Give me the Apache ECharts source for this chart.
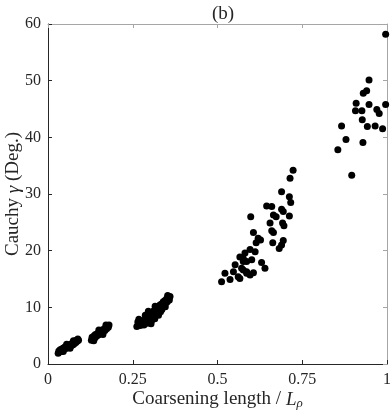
<!DOCTYPE html>
<html style="height: 100%">
<head>
    <meta charset="utf-8">
    <title>(b)</title>
</head>
<body style="height: 100%; margin: 0">
    <div id="container" style="width: 391px; height: 415px"></div>
    <script type="text/javascript" src="https://cdn.jsdelivr.net/npm/echarts@6/dist/echarts.min.js"></script>
    <script type="text/javascript">
        var xTicks = [0, 0.25, 0.5, 0.75, 1];
        var yTicks = [0, 10, 20, 30, 40, 50, 60];

        // coarsening length / L_rho , Cauchy gamma (deg)
        var group1 = [
            [0.030,1.9],[0.032,2.3],[0.034,2.1],[0.036,2.5],[0.038,2.2],[0.040,2.6],[0.042,2.4],
            [0.044,2.8],[0.046,2.5],[0.048,2.9],[0.050,2.7],[0.052,3.1],[0.054,2.8],[0.056,3.2],
            [0.058,2.9],[0.060,3.3],[0.062,3.0],[0.064,3.4],[0.066,3.1],[0.068,3.5],[0.070,3.3],
            [0.072,3.7],[0.074,3.4],[0.076,3.8],[0.078,3.6],[0.080,4.0],[0.082,3.8],[0.084,4.2],
            [0.086,4.0],[0.088,4.4],[0.090,4.2],[0.045,2.2],[0.055,3.5],[0.065,2.8],[0.075,4.1]
        ];
        var group2 = [
            [0.128,4.2],[0.130,4.7],[0.133,4.4],[0.136,5.0],[0.138,4.6],[0.140,5.2],[0.143,4.9],
            [0.146,5.4],[0.148,5.1],[0.150,5.6],[0.153,5.3],[0.156,5.8],[0.158,5.5],[0.160,6.0],
            [0.163,5.7],[0.166,6.2],[0.168,5.9],[0.170,6.4],[0.173,6.2],[0.176,6.7],[0.178,6.5],
            [0.180,6.9],[0.135,4.1],[0.150,6.0],[0.162,5.2],[0.171,6.9]
        ];
        var group3 = [
            [0.262,6.6],[0.265,7.4],[0.270,7.2],[0.272,6.8],[0.275,7.6],[0.278,7.1],[0.280,7.3],
            [0.283,6.9],[0.285,7.8],[0.288,7.5],[0.290,8.0],[0.292,7.2],[0.295,8.4],[0.298,7.8],
            [0.300,8.8],[0.302,8.2],[0.305,7.6],[0.307,9.0],[0.310,8.5],[0.312,9.4],[0.315,8.0],
            [0.318,9.2],[0.320,9.8],[0.322,8.8],[0.325,10.0],[0.328,9.5],[0.330,10.4],[0.332,9.2],
            [0.335,10.6],[0.338,10.0],[0.340,11.0],[0.342,10.3],[0.345,11.2],[0.348,10.8],
            [0.350,11.5],[0.352,11.0],[0.355,11.8],[0.358,11.3],[0.360,11.9],
            [0.268,7.9],[0.296,9.3],[0.304,7.1],[0.316,10.2],[0.326,8.6],[0.336,9.6],[0.346,10.1],
            [0.353,12.1],[0.287,8.6]
        ];
        var group4 = [
            [0.512,14.5],[0.522,16.0],[0.537,14.9],[0.547,16.3],[0.552,17.5],[0.561,15.4],
            [0.571,16.9],[0.576,18.1],[0.586,16.3],[0.596,15.7],
            [0.689,30.4],[0.712,29.5],[0.716,28.5],[0.645,27.9],[0.660,27.8],[0.689,27.3],
            [0.694,26.9],[0.665,26.3],[0.673,26.0],[0.712,26.1],[0.598,26.0],[0.655,24.9],
            [0.692,24.9],[0.696,24.4],[0.660,23.5],[0.665,23.2],[0.606,23.2],[0.620,22.2],
            [0.627,21.9],[0.614,21.4],[0.663,21.4],[0.694,21.8],[0.689,21.0],[0.682,20.4],
            [0.596,20.2],[0.611,19.8],[0.581,19.6],[0.566,18.9],[0.576,18.6],[0.601,18.4],
            [0.586,18.1],[0.630,17.9],[0.640,16.9],[0.576,16.6],[0.586,16.0],[0.606,16.1],
            [0.566,15.1],[0.723,34.2],[0.714,32.8]
        ];
        var group5 = [
            [0.996,58.2],[0.947,50.1],[0.940,48.2],[0.930,47.8],[0.909,46.0],[0.947,45.8],
            [0.996,45.8],[0.907,44.7],[0.926,44.7],[0.970,44.9],[0.977,44.2],[0.927,43.1],
            [0.866,42.0],[0.942,41.9],[0.965,42.0],[0.987,41.5],[0.879,39.6],[0.929,39.1],
            [0.855,37.8],[0.896,33.3]
        ];

        var font = '"Liberation Serif", "DejaVu Serif", serif';
        var allPoints = group1.concat(group2, group3, group4, group5);

        var dom = document.getElementById("container");
        var myChart = echarts.init(dom);

        function baseAxis(ticks, show, pos, lineColor) {
            return {
                type: 'value',
                position: pos,
                min: ticks[0],
                max: ticks[ticks.length - 1],
                interval: ticks[1] - ticks[0],
                axisLine: { show: true, onZero: false, lineStyle: { color: lineColor, width: 1 } },
                axisTick: { show: true, inside: true, length: 4, lineStyle: { color: lineColor } },
                axisLabel: { show: show, color: '#262626', fontFamily: font, fontSize: 16 },
                splitLine: { show: false }
            };
        }

        var xMain = baseAxis(xTicks, true, 'bottom', '#262626');
        xMain.axisLabel.margin = 8;
        xMain.axisLabel.formatter = function (v) { return String(v); };
        xMain.name = 'Coarsening length / {i|L}{s|ρ}';
        xMain.nameLocation = 'middle';
        xMain.nameGap = 25;
        xMain.nameMoveOverlap = false;
        xMain.nameTextStyle = {
            color: '#262626', fontFamily: font, fontSize: 19,
            rich: {
                i: { fontFamily: font, fontSize: 19, fontStyle: 'italic', color: '#262626' },
                s: { fontFamily: font, fontSize: 13, fontStyle: 'italic', color: '#262626', verticalAlign: 'bottom', padding: [8, 0, 0, 0] }
            }
        };

        var yMain = baseAxis(yTicks, true, 'left', '#262626');
        yMain.axisLabel.margin = 7;
        yMain.name = 'Cauchy {i|γ} (Deg.)';
        yMain.nameLocation = 'middle';
        yMain.nameGap = 25;
        yMain.nameMoveOverlap = false;
        yMain.nameTextStyle = {
            color: '#262626', fontFamily: font, fontSize: 19,
            rich: {
                i: { fontFamily: font, fontSize: 19, fontStyle: 'italic', color: '#262626' }
            }
        };

        var option = {
            animation: false,
            backgroundColor: '#ffffff',
            title: {
                text: '(b)',
                left: 218,
                textAlign: 'center',
                top: 0,
                textStyle: { fontFamily: font, fontSize: 19, fontWeight: 'normal', color: '#262626' }
            },
            grid: { left: 48, right: 4, top: 24, bottom: 51, containLabel: false, outerBoundsMode: 'none' },
            xAxis: [xMain, baseAxis(xTicks, false, 'top', '#a6a6a6')],
            yAxis: [yMain, baseAxis(yTicks, false, 'right', '#a6a6a6')],
            series: [{
                type: 'scatter',
                symbolSize: 7,
                itemStyle: { color: '#000000', opacity: 1 },
                data: allPoints
            }]
        };

        myChart.setOption(option, true);
    </script>
</body>
</html>
